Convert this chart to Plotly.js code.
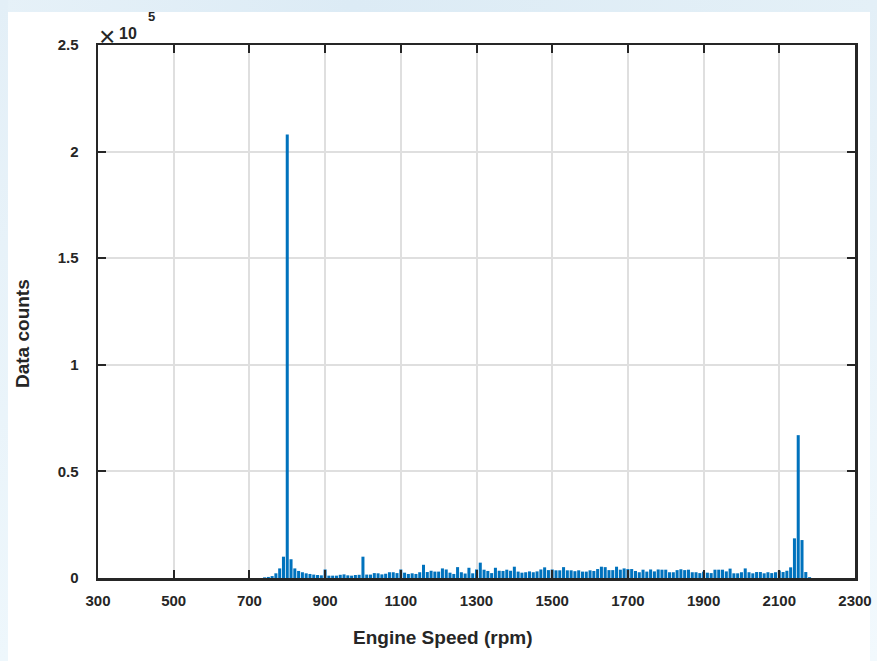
<!DOCTYPE html>
<html>
<head>
<meta charset="utf-8">
<script src="https://cdn.plot.ly/plotly-3.0.1.min.js"></script>
<style>
  html, body { margin: 0; padding: 0; width: 877px; height: 661px; overflow: hidden; background: #ffffff; }
  .strip { position: absolute; }
  #top { left: 0; top: 0; width: 877px; height: 12px; background: linear-gradient(90deg, #e6f1f8, #dcebf5 40%, #e4f0f7 100%); }
  #left { left: 0; top: 0; width: 8px; height: 661px; background: linear-gradient(180deg, #e3eff7, #eef7fc); }
  #right { right: 0; top: 0; width: 7px; height: 661px; background: linear-gradient(180deg, #e3eff7, #f2f9fd); }
  #plot { position: absolute; left: 0; top: 0; width: 877px; height: 661px; }
</style>
</head>
<body>
<div class="strip" id="top"></div>
<div class="strip" id="left"></div>
<div class="strip" id="right"></div>
<div id="plot"></div>
<script>
// Bin centres (rpm), 10 rpm bins
const rpmBins = [740,750,760,770,780,790,800,810,820,830,840,850,860,870,880,890,
  900,910,920,930,940,950,960,970,980,990,1000,1010,1020,1030,1040,1050,1060,1070,1080,1090,
  1100,1110,1120,1130,1140,1150,1160,1170,1180,1190,1200,1210,1220,1230,1240,1250,1260,1270,1280,1290,
  1300,1310,1320,1330,1340,1350,1360,1370,1380,1390,1400,1410,1420,1430,1440,1450,1460,1470,1480,1490,
  1500,1510,1520,1530,1540,1550,1560,1570,1580,1590,1600,1610,1620,1630,1640,1650,1660,1670,1680,1690,
  1700,1710,1720,1730,1740,1750,1760,1770,1780,1790,1800,1810,1820,1830,1840,1850,1860,1870,1880,1890,
  1900,1910,1920,1930,1940,1950,1960,1970,1980,1990,2000,2010,2020,2030,2040,2050,2060,2070,2080,2090,
  2100,2110,2120,2130,2140,2150,2160,2170,2180];
// Data counts per bin
const dataCounts = [300,500,900,2200,4500,10000,208000,8800,4500,3300,2700,2200,1900,1600,1400,1250,
  4000,1100,1100,1100,1500,1700,1250,1100,1400,1500,10000,1600,1600,2300,2200,1700,2000,2700,2700,2300,
  4000,2500,1900,2200,1900,2700,6200,2800,3400,3000,3000,4500,4000,2500,1900,5100,2700,2100,4800,2200,
  4000,7200,3900,3300,2300,4800,3400,3300,3900,3400,5300,3000,2500,2700,3100,2700,3100,4000,5000,3700,
  4000,3600,3600,5100,3600,3600,3200,3600,3000,3000,3600,3300,4200,5300,5100,3700,3700,5300,3900,4500,
  4200,4200,3300,2700,3900,3000,4000,3100,4000,3900,3900,2700,2700,3700,4100,3700,3900,2700,2700,2300,
  3000,2500,2300,3900,3900,3900,3100,4400,2200,2200,2700,4500,2700,2200,2800,2800,2200,2700,2300,2700,
  3500,2800,3400,5000,18600,67000,17800,2800,400];
const xTicks = [300,500,700,900,1100,1300,1500,1700,1900,2100,2300];
const yTicks = [0,50000,100000,150000,200000,250000];
const yTickLabels = ['0','0.5','1','1.5','2','2.5'];
const xTitle = 'Engine Speed (rpm)';
const yTitle = 'Data counts';

const fontFam = '"Liberation Sans", Arial, Helvetica, sans-serif';
const axisCol = '#262626';

const trace = {
  type: 'bar', x: rpmBins, y: dataCounts,
  marker: { color: '#0072BD', line: { width: 0 } },
  hoverinfo: 'x+y'
};

const tickFont = { family: fontFam, size: 15, color: axisCol, weight: 'bold' };
const titleFont = { family: fontFam, size: 19, color: axisCol, weight: 'bold' };

const layout = {
  width: 877, height: 661,
  margin: { l: 98, r: 22, t: 45, b: 83 },
  paper_bgcolor: 'rgba(0,0,0,0)', plot_bgcolor: '#ffffff',
  bargap: 0.2, showlegend: false,
  font: tickFont,
  xaxis: {
    range: [300, 2300], tickvals: xTicks, ticktext: xTicks.map(String),
    showgrid: true, gridcolor: '#dfdfdf', gridwidth: 2,
    showline: true, linecolor: axisCol, linewidth: 2.5, mirror: 'ticks',
    ticks: 'inside', ticklen: 8, tickwidth: 2, tickcolor: axisCol,
    ticklabelstandoff: 7, ticklabeloverflow: 'allow', zeroline: false,
    tickfont: tickFont
  },
  yaxis: {
    range: [0, 250000], tickvals: yTicks, ticktext: yTickLabels,
    showgrid: true, gridcolor: '#dfdfdf', gridwidth: 2,
    showline: true, linecolor: axisCol, linewidth: 2.5, mirror: 'ticks',
    ticks: 'inside', ticklen: 8, tickwidth: 2, tickcolor: axisCol,
    ticklabelstandoff: 14, ticklabeloverflow: 'allow', zeroline: false,
    tickfont: tickFont
  },
  annotations: [
    { xref: 'paper', yref: 'paper', x: 0, y: 0, xanchor: 'center', yanchor: 'middle',
      xshift: 344, yshift: -59, showarrow: false, text: xTitle, font: titleFont },
    { xref: 'paper', yref: 'paper', x: 0, y: 0, xanchor: 'center', yanchor: 'middle',
      xshift: -76, yshift: 244, showarrow: false, text: yTitle, textangle: -90, font: titleFont },
    { xref: 'paper', yref: 'paper', x: 0, y: 1, xanchor: 'center', yanchor: 'middle',
      xshift: 9, yshift: 9, showarrow: false, text: '×',
      font: { family: fontFam, size: 28, color: axisCol, weight: 'normal' } },
    { xref: 'paper', yref: 'paper', x: 0, y: 1, xanchor: 'center', yanchor: 'middle',
      xshift: 30, yshift: 12, showarrow: false, text: '10',
      font: { family: fontFam, size: 16, color: axisCol, weight: 'bold' } },
    { xref: 'paper', yref: 'paper', x: 0, y: 1, xanchor: 'center', yanchor: 'middle',
      xshift: 53, yshift: 29, showarrow: false, text: '5',
      font: { family: fontFam, size: 13, color: axisCol, weight: 'bold' } }
  ]
};

Plotly.newPlot('plot', [trace], layout, { displayModeBar: false, staticPlot: true });
</script>
</body>
</html>
